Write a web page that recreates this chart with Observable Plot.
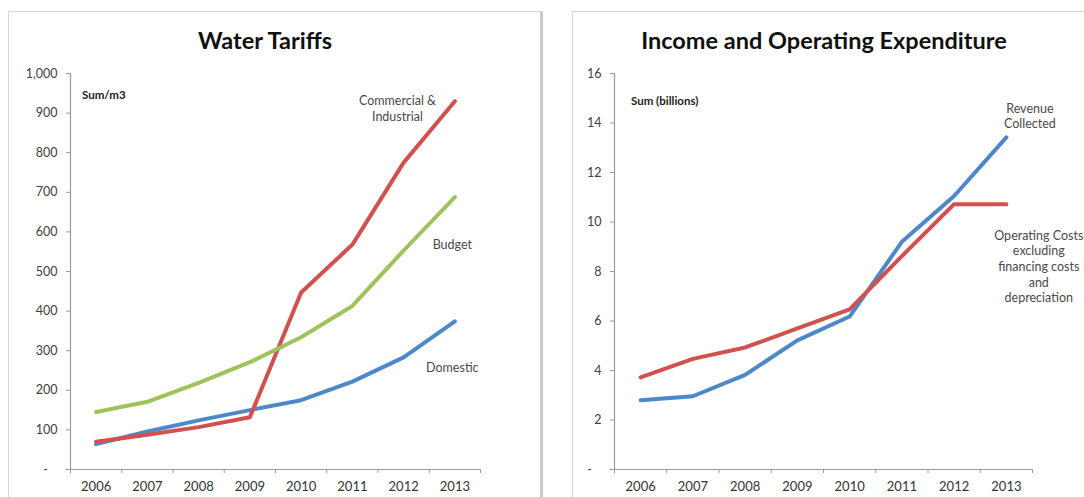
<!DOCTYPE html>
<html>
<head>
<meta charset="utf-8">
<script src="https://cdn.jsdelivr.net/npm/d3@7"></script>
<script src="https://cdn.jsdelivr.net/npm/@observablehq/plot@0.6"></script>
<style>
  html, body { margin: 0; padding: 0; background: #fff; }
  #root { position: relative; width: 1084px; height: 497px; overflow: hidden; background: #fff; font-family: Lato, "Open Sans", sans-serif; }
  .box { position: absolute; border: 1.5px solid #d6d6d6; border-right: 3px solid #c8c8c8; background: #fff; }
  .title { position: absolute; text-align: center; font-weight: 700; font-size: 23.5px; color: #111; line-height: 1; }
  .ylab { position: absolute; font-weight: 700; font-size: 11.5px; color: #222; line-height: 1; }
  .plot { position: absolute; top: 0; }
</style>
</head>
<body>
<div id="root">
  <div class="box" style="left:8px; top:11px; width:531px; height:500px;"></div>
  <div class="box" style="left:572px; top:11px; width:520px; height:500px;"></div>
  <div class="title" style="left:0px; top:29px; width:530px;">Water Tariffs</div>
  <div class="title" style="left:572px; top:29px; width:504px;">Income and Operating Expenditure</div>
  <div class="ylab" style="left:82px; top:89px;">Sum/m3</div>
  <div class="ylab" style="left:631px; top:95px;">Sum (billions)</div>
  <div id="left" class="plot" style="left:0px;"></div>
  <div id="right" class="plot" style="left:544px;"></div>
</div>
<script>
// ---- Data ----
const years = [2006, 2007, 2008, 2009, 2010, 2011, 2012, 2013];

// Water Tariffs (Sum/m3)
const domestic   = [64, 96, 124, 150, 175, 222, 283, 374];
const commercial = [70, 88, 107, 132, 447, 568, 775, 930];
const budget     = [145, 171, 219, 271, 334, 413, 553, 688];
const tariffTicks = [0, 100, 200, 300, 400, 500, 600, 700, 800, 900, 1000];

// Income and Operating Expenditure (Sum billions)
const revenue   = [2.8, 2.96, 3.82, 5.22, 6.18, 9.2, 11.05, 13.42];
const operating = [3.72, 4.47, 4.93, 5.7, 6.47, 8.62, 10.72, 10.72];
const incomeTicks = [0, 2, 4, 6, 8, 10, 12, 14, 16];

// Annotation labels (data coordinates)
const tariffLabels = [
  {text: "Commercial &\nIndustrial", year: 2011.88, value: 913},
  {text: "Budget", year: 2012.95, value: 570},
  {text: "Domestic", year: 2012.95, value: 258}
];
const incomeLabels = [
  {text: "Revenue\nCollected", year: 2013.45, value: 14.3},
  {text: "Operating Costs\nexcluding\nfinancing costs\nand\ndepreciation", year: 2013.62, value: 8.22}
];

const colors = {red: "#d0514e", green: "#9dc45b", blue: "#4d88c8"};

// ---- Build tables ----
function tidy(seriesList) {
  const out = [];
  for (const [name, vals] of seriesList) years.forEach((y, i) => out.push({series: name, year: y, value: vals[i]}));
  return out;
}
const tariffData = tidy([["Domestic", domestic], ["Commercial & Industrial", commercial], ["Budget", budget]]);
const incomeData = tidy([["Revenue Collected", revenue], ["Operating Costs", operating]]);

const boundaries = d3.range(years[0] - 0.5, years[years.length - 1] + 1, 1);

function panel({data, seriesNames, seriesColors, yDomain, yTicks, yFormat, labels, width, marginRight}) {
  return Plot.plot({
    width, height: 497,
    marginLeft: 70, marginRight, marginTop: 73, marginBottom: 28,
    x: {type: "linear", domain: [boundaries[0], boundaries[boundaries.length - 1]]},
    y: {domain: yDomain},
    color: {domain: seriesNames, range: seriesColors},
    style: {fontFamily: "Lato, 'Open Sans', sans-serif", fontSize: "12px", color: "#404040", background: "transparent", overflow: "visible"},
    marks: [
      Plot.axisY({ticks: yTicks, tickSize: 4, tickPadding: 9, tickFormat: yFormat, stroke: "#9a9a9a", fill: "#404040", label: null, fontSize: 12.5}),
      Plot.axisX({ticks: boundaries, tickSize: 4, tickFormat: () => "", stroke: "#9a9a9a", label: null}),
      Plot.axisX({ticks: years, tickSize: 0, tickPadding: 12, tickFormat: d => String(d), fill: "#333", label: null, fontSize: 13}),
      Plot.ruleX([boundaries[0]], {stroke: "#9a9a9a", strokeWidth: 1.2}),
      Plot.ruleY([yDomain[0]], {stroke: "#9a9a9a", strokeWidth: 1.2}),
      Plot.line(data, {x: "year", y: "value", z: "series", stroke: "series", strokeWidth: 4, strokeLinejoin: "round"}),
      Plot.text(labels, {x: "year", y: "value", text: "text", lineAnchor: "middle", lineHeight: 1.25, fill: "#4a4a4a", fontSize: 12.5})
    ]
  });
}

const fmtTariff = d => d === 0 ? "-\u00a0\u00a0\u00a0" : d3.format(",")(d);
const fmtIncome = d => d === 0 ? "-\u00a0\u00a0\u00a0" : String(d);

document.getElementById("left").append(panel({
  data: tariffData,
  seriesNames: ["Domestic", "Commercial & Industrial", "Budget"],
  seriesColors: [colors.blue, colors.red, colors.green],
  yDomain: [0, 1000], yTicks: tariffTicks, yFormat: fmtTariff,
  labels: tariffLabels, width: 542, marginRight: 62
}));

document.getElementById("right").append(panel({
  data: incomeData,
  seriesNames: ["Revenue Collected", "Operating Costs"],
  seriesColors: [colors.blue, colors.red],
  yDomain: [0, 16], yTicks: incomeTicks, yFormat: fmtIncome,
  labels: incomeLabels, width: 540, marginRight: 52
}));
</script>
</body>
</html>
